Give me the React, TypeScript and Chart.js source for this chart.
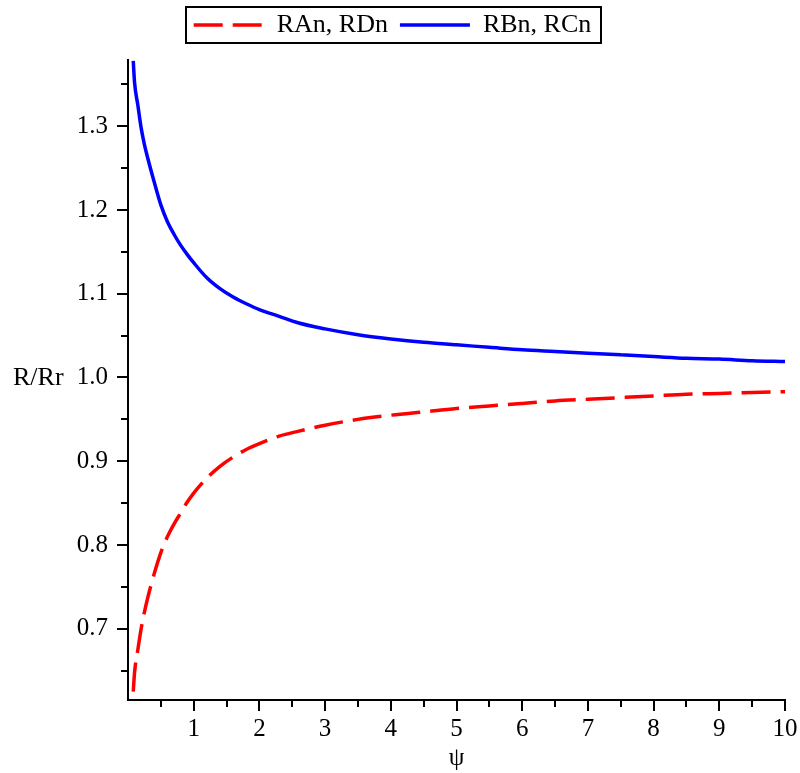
import React, { useEffect, useRef } from "react";
import { Chart, registerables } from "chart.js";

Chart.register(...registerables);

// ψ sample positions
const PSI = [0.08, 0.1, 0.15, 0.2, 0.25, 0.3, 0.4, 0.5, 0.6, 0.7, 0.8, 0.9, 1.0, 1.2, 1.4, 1.6, 1.8, 2.0, 2.3, 2.6, 3.0, 3.5, 4.0, 4.5, 5.0, 5.5, 6.0, 6.5, 7.0, 7.5, 8.0, 8.5, 9.0, 9.5, 10.0];

// RAn, RDn (red dashed)
const RA_RD = [0.625, 0.648, 0.675, 0.7, 0.72, 0.737, 0.766, 0.791, 0.81, 0.825, 0.838, 0.851, 0.862, 0.88, 0.894, 0.905, 0.914, 0.921, 0.93, 0.936, 0.943, 0.95, 0.955, 0.959, 0.963, 0.966, 0.969, 0.972, 0.974, 0.976, 0.978, 0.98, 0.981, 0.982, 0.983];

// RBn, RCn (blue solid)
const RB_RC = [1.378, 1.352, 1.325, 1.298, 1.278, 1.262, 1.233, 1.206, 1.186, 1.171, 1.158, 1.147, 1.137, 1.119, 1.106, 1.096, 1.088, 1.081, 1.073, 1.065, 1.058, 1.051, 1.046, 1.042, 1.039, 1.036, 1.033, 1.031, 1.029, 1.027, 1.025, 1.023, 1.022, 1.02, 1.019];

const SERIES_NAMES = ["RAn, RDn", "RBn, RCn"];
const X_TITLE = "ψ";
const Y_TITLE = "R/Rr";

const X_MIN = 0;
const X_MAX = 10;
const X_STEP = 0.5;
const Y_MIN = 0.615;
const Y_MAX = 1.379;
const Y_STEP = 0.05;

const FONT = "'Liberation Serif', 'Times New Roman', serif";
const LINE_W = 3.5;
const DASH = [29, 10];

const isMajor = (v: number, unit: number) => Math.abs(v / unit - Math.round(v / unit)) < 1e-6;

const decorPlugin = {
  id: "decor",
  beforeLayout(chart: any) {
    const lg = chart.legend;
    if (lg && !lg.__patched) {
      const orig = lg.fit;
      lg.fit = function (this: any) {
        orig.call(this);
        this.height = 60;
      };
      lg.__patched = true;
    }
  },
  afterDraw(chart: any) {
    const ctx = chart.ctx;
    const xs = chart.scales.x;
    const ys = chart.scales.y;
    const area = chart.chartArea;
    ctx.save();
    ctx.strokeStyle = "#000";
    ctx.lineWidth = 2;
    ctx.setLineDash([]);
    ctx.beginPath();
    xs.ticks.forEach((t: any) => {
      if (t.value <= X_MIN + 1e-9) return;
      const px = Math.round(xs.getPixelForValue(t.value));
      const len = isMajor(t.value, 1) ? 11 : 7;
      ctx.moveTo(px, area.bottom);
      ctx.lineTo(px, area.bottom + len);
    });
    ys.ticks.forEach((t: any) => {
      const py = Math.round(ys.getPixelForValue(t.value));
      const len = isMajor(t.value, 0.1) ? 11 : 7;
      ctx.moveTo(area.left, py);
      ctx.lineTo(area.left - len, py);
    });
    ctx.stroke();

    // horizontal y-axis title
    ctx.fillStyle = "#000";
    ctx.font = `26px ${FONT}`;
    ctx.textAlign = "left";
    ctx.textBaseline = "middle";
    ctx.fillText(Y_TITLE, 13, (area.top + area.bottom) / 2 - 2);

    // legend frame
    const lg = chart.legend;
    if (lg && lg.legendHitBoxes && lg.legendHitBoxes.length) {
      const boxes = lg.legendHitBoxes;
      let l = Infinity, r = -Infinity, t = Infinity, b = -Infinity;
      boxes.forEach((h: any) => {
        l = Math.min(l, h.left);
        r = Math.max(r, h.left + h.width);
        t = Math.min(t, h.top);
        b = Math.max(b, h.top + h.height);
      });
      ctx.lineWidth = 2;
      ctx.strokeStyle = "#000";
      ctx.strokeRect(Math.round(l) - 8, Math.round(t) - 5, Math.round(r - l) + 17, Math.round(b - t) + 10);
    }
    ctx.restore();
  },
};

export default function App() {
  const canvasRef = useRef<HTMLCanvasElement | null>(null);

  useEffect(() => {
    const canvas = canvasRef.current;
    if (!canvas) return;
    const chart = new Chart(canvas, {
      type: "line",
      data: {
        datasets: [
          {
            label: SERIES_NAMES[0],
            data: PSI.map((x, i) => ({ x, y: RA_RD[i] })),
            borderColor: "#ff0000",
            backgroundColor: "#ff0000",
            borderWidth: LINE_W,
            borderDash: DASH,
            pointRadius: 0,
            cubicInterpolationMode: "monotone",
            fill: false,
          },
          {
            label: SERIES_NAMES[1],
            data: PSI.map((x, i) => ({ x, y: RB_RC[i] })),
            borderColor: "#0000ff",
            backgroundColor: "#0000ff",
            borderWidth: LINE_W,
            pointRadius: 0,
            cubicInterpolationMode: "monotone",
            fill: false,
          },
        ],
      },
      options: {
        responsive: false,
        animation: false,
        layout: { padding: { left: 0, right: 15, top: 0, bottom: 0 } },
        plugins: {
          tooltip: { enabled: false },
          legend: {
            display: true,
            position: "top",
            align: "center",
            labels: {
              usePointStyle: true,
              pointStyle: "line",
              pointStyleWidth: 70,
              padding: 12,
              color: "#000",
              font: { family: FONT, size: 26 },
              generateLabels: (ch: any) => {
                const items = Chart.defaults.plugins.legend.labels.generateLabels(ch);
                return items.map((it: any) => {
                  const ds = ch.data.datasets[it.datasetIndex];
                  return { ...it, lineDash: ds.borderDash || [], lineWidth: LINE_W, strokeStyle: ds.borderColor, pointStyle: "line" };
                });
              },
            },
          },
        },
        scales: {
          x: {
            type: "linear",
            min: X_MIN,
            max: X_MAX,
            grid: { display: false, drawTicks: false },
            border: { display: true, color: "#000", width: 2 },
            ticks: {
              stepSize: X_STEP,
              includeBounds: false,
              autoSkip: false,
              maxRotation: 0,
              padding: 14,
              color: "#000",
              font: { family: FONT, size: 25 },
              callback: (v: any) => (isMajor(Number(v), 1) && Number(v) !== 0 ? String(Math.round(Number(v))) : ""),
            },
            title: { display: true, text: X_TITLE, color: "#000", font: { family: FONT, size: 25 }, padding: { top: 0, bottom: 0 } },
            afterFit: (s: any) => {
              s.height = 73;
              s.paddingLeft = 0;
              s.paddingRight = 0;
            },
          },
          y: {
            type: "linear",
            min: Y_MIN,
            max: Y_MAX,
            grid: { display: false, drawTicks: false },
            border: { display: true, color: "#000", width: 2 },
            ticks: {
              stepSize: Y_STEP,
              includeBounds: false,
              autoSkip: false,
              padding: 20,
              color: "#000",
              font: { family: FONT, size: 25 },
              callback: (v: any) => (isMajor(Number(v), 0.1) ? Number(v).toFixed(1) : ""),
            },
            afterFit: (s: any) => {
              s.width = 128;
              s.paddingTop = 0;
              s.paddingBottom = 0;
            },
          },
        },
      },
      plugins: [decorPlugin],
    } as any);
    return () => chart.destroy();
  }, []);

  return (
    <div style={{ position: "fixed", left: 0, top: 0, width: 800, height: 773, background: "#fff" }}>
      <canvas ref={canvasRef} width={800} height={773} style={{ width: 800, height: 773, display: "block" }} />
    </div>
  );
}
